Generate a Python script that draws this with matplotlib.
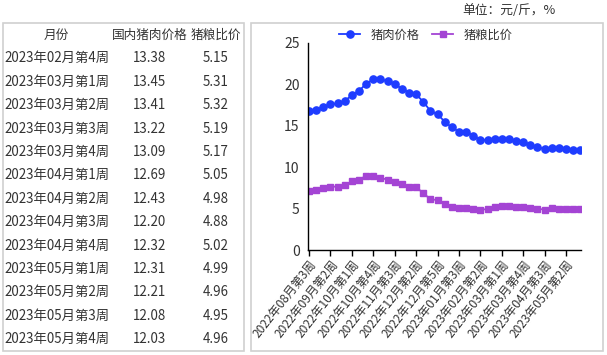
import matplotlib
matplotlib.use("Agg")
import matplotlib.pyplot as plt
from matplotlib.patches import Rectangle

plt.rcParams['font.family'] = ['Noto Sans CJK SC', 'DejaVu Sans']

# ---- table data ----
table_header = ["月份", "国内猪肉价格", "猪粮比价"]
table_weeks = ["2023年02月第4周", "2023年03月第1周", "2023年03月第2周", "2023年03月第3周",
               "2023年03月第4周", "2023年04月第1周", "2023年04月第2周", "2023年04月第3周",
               "2023年04月第4周", "2023年05月第1周", "2023年05月第2周", "2023年05月第3周",
               "2023年05月第4周"]
table_pork = ["13.38", "13.45", "13.41", "13.22", "13.09", "12.69", "12.43", "12.20",
              "12.32", "12.31", "12.21", "12.08", "12.03"]
table_ratio = ["5.15", "5.31", "5.32", "5.19", "5.17", "5.05", "4.98", "4.88",
               "5.02", "4.99", "4.96", "4.95", "4.96"]

# ---- chart data ----
weeks = ["2022年08月第3周", "2022年08月第4周", "2022年09月第1周", "2022年09月第2周",
         "2022年09月第3周", "2022年09月第4周", "2022年10月第1周", "2022年10月第2周",
         "2022年10月第3周", "2022年10月第4周", "2022年11月第1周", "2022年11月第2周",
         "2022年11月第3周", "2022年11月第4周", "2022年12月第1周", "2022年12月第2周",
         "2022年12月第3周", "2022年12月第4周", "2022年12月第5周", "2023年01月第1周",
         "2023年01月第2周", "2023年01月第3周", "2023年01月第4周", "2023年02月第1周",
         "2023年02月第2周", "2023年02月第3周", "2023年02月第4周", "2023年03月第1周",
         "2023年03月第2周", "2023年03月第3周", "2023年03月第4周", "2023年04月第1周",
         "2023年04月第2周", "2023年04月第3周", "2023年04月第4周", "2023年05月第1周",
         "2023年05月第2周", "2023年05月第3周", "2023年05月第4周"]
pork_price = [16.8, 16.9, 17.3, 17.6, 17.7, 18.0, 18.7, 19.2, 20.1, 20.6, 20.6, 20.4,
              20.0, 19.5, 19.0, 18.8, 17.9, 16.8, 16.4, 15.5, 14.8, 14.3, 14.3, 13.8,
              13.3, 13.3, 13.38, 13.45, 13.41, 13.22, 13.09, 12.69, 12.43, 12.20,
              12.32, 12.31, 12.21, 12.08, 12.03]
pig_grain = [7.1, 7.3, 7.5, 7.65, 7.65, 7.8, 8.3, 8.5, 8.95, 8.95, 8.7, 8.5, 8.25,
             8.0, 7.6, 7.55, 6.9, 6.1, 6.05, 5.6, 5.25, 5.1, 5.1, 4.9, 4.85, 4.95,
             5.15, 5.31, 5.32, 5.19, 5.17, 5.05, 4.98, 4.88, 5.02, 4.99, 4.96, 4.95, 4.96]
series_names = ["猪肉价格", "猪粮比价"]
yticks = [0, 5, 10, 15, 20, 25]

W, H = 607, 355
fig = plt.figure(figsize=(W / 100, H / 100), dpi=100)

def fx(px):
    return px / W

def fy(py):
    return 1 - py / H

text_color = "#333333"
border_color = "#d0d0d0"

# table border
fig.patches.append(Rectangle((fx(2.5), fy(350.5)), fx(241), (350.5 - 22.5) / H,
                             transform=fig.transFigure, fill=False,
                             edgecolor=border_color, lw=1.2))
# chart border
fig.patches.append(Rectangle((fx(251), fy(351)), fx(351.5), (351 - 22.5) / H,
                             transform=fig.transFigure, fill=False,
                             edgecolor=border_color, lw=1.2))

# table text
col_x = [56.5, 150, 216]
row0 = 35
dy = 23.4
for j, h in enumerate(table_header):
    fig.text(fx(col_x[j]), fy(row0), h, ha="center", va="center",
             fontsize=9.1, color=text_color)
for i in range(len(table_weeks)):
    y = row0 + dy * (i + 1)
    fig.text(fx(col_x[0]), fy(y), table_weeks[i], ha="center", va="center",
             fontsize=9.6, color=text_color)
    fig.text(fx(col_x[1]), fy(y), table_pork[i], ha="center", va="center",
             fontsize=9.6, color=text_color)
    fig.text(fx(col_x[2]), fy(y), table_ratio[i], ha="center", va="center",
             fontsize=9.6, color=text_color)

# unit text
fig.text(fx(556), fy(10), "单位：元/斤，%", ha="right", va="center",
         fontsize=9.2, color=text_color)

# chart axes
ax = fig.add_axes([fx(308), fy(250), fx(581 - 308), (250 - 43) / H])
x = list(range(len(weeks)))
blue = "#1e3cff"
purple = "#a444d4"
ax.plot(x, pork_price, color=blue, marker="o", markersize=5.2, lw=1.3,
        label=series_names[0])
ax.plot(x, pig_grain, color=purple, marker="s", markersize=4.6, lw=1.3,
        label=series_names[1])
ax.set_xlim(-0.15, len(weeks) - 1 + 0.1)
ax.set_ylim(0, 25)
ax.set_yticks(yticks)
ax.tick_params(axis="y", length=0, labelsize=10, pad=6, labelcolor=text_color)
ax.set_xticks(x[::3])
ax.set_xticklabels(weeks[::3], rotation=52, ha="right", rotation_mode="anchor",
                   fontsize=8.6, color=text_color)
ax.tick_params(axis="x", length=4, width=1, direction="out", pad=2)
for s in ["top", "right"]:
    ax.spines[s].set_visible(False)
for s in ["left", "bottom"]:
    ax.spines[s].set_color("black")
    ax.spines[s].set_linewidth(1.0)

leg = fig.legend(loc="center", bbox_to_anchor=(fx(426), fy(35)), ncol=2,
                 frameon=False, fontsize=8.8, handlelength=1.7, handletextpad=0.9,
                 columnspacing=1.0, labelcolor=text_color)

fig.savefig("out.png", dpi=100)
